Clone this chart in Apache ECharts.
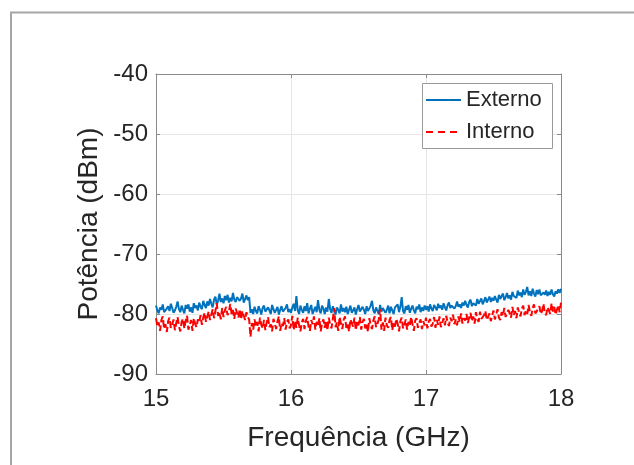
<!DOCTYPE html>
<html>
<head>
<meta charset="utf-8">
<script src="https://cdn.jsdelivr.net/npm/echarts@6/dist/echarts.min.js"></script>
<style>
  html, body { margin: 0; padding: 0; background: #fff; }
  #chart { width: 634px; height: 465px; }
</style>
</head>
<body>
<div id="chart"></div>
<script>
// Sweep: 15-18 GHz, 0.01 GHz step
const freqStart = 15;
const freqStep = 0.01;

const xTicks = [15, 16, 17, 18];
const yTicks = [-90, -80, -70, -60, -50, -40];
const seriesNames = ['Externo', 'Interno'];

// Measured power, external antenna (dBm)
const externo = [
  -78.6, -79.4, -79.9, -78.9, -79.3, -78.4, -79.7, -80.0, -79.1, -78.7,
  -79.5, -78.3, -79.0, -79.8, -79.4, -78.8, -77.9, -79.2, -79.7, -78.6,
  -79.3, -79.9, -78.5, -79.1, -78.4, -79.6, -78.9, -79.8, -78.2, -79.0,
  -78.6, -79.4, -78.1, -78.8, -79.2, -77.8, -78.5, -79.0, -77.9, -78.6,
  -77.5, -78.3, -78.9, -77.6, -77.1, -78.4, -77.8, -76.6, -78.0, -77.4,
  -78.2, -77.0, -77.7, -76.8, -78.1, -77.3, -77.9, -76.5, -77.6, -78.0,
  -77.2, -76.9, -77.8, -77.4, -76.6, -78.1, -77.5, -76.9, -77.7, -77.2,
  -79.8, -79.2, -80.0, -78.8, -79.5, -79.9, -78.7, -79.3, -80.1, -79.0,
  -78.6, -79.6, -79.9, -78.9, -79.4, -80.0, -78.5, -79.2, -79.8, -79.5,
  -78.8, -80.1, -79.3, -78.7, -79.6, -79.9, -79.0, -78.4, -79.7, -79.2,
  -79.8, -78.9, -78.3, -79.5, -77.0, -79.4, -80.0, -78.6, -79.3, -79.8,
  -78.7, -79.5, -78.2, -79.9, -79.1, -78.5, -80.0, -79.4, -78.8, -79.7,
  -77.7, -79.3, -79.9, -78.6, -79.1, -80.0, -78.9, -79.6, -77.5, -79.2,
  -79.8, -78.7, -79.4, -80.1, -78.9, -79.3, -79.9, -78.4, -79.6, -79.0,
  -79.7, -78.8, -80.0, -79.3, -78.6, -79.8, -79.4, -78.9, -80.1, -79.2,
  -78.5, -79.6, -79.9, -78.8, -79.3, -80.0, -78.7, -79.5, -79.1, -78.6,
  -77.8, -79.4, -79.9, -78.9, -79.2, -80.0, -78.5, -79.6, -79.0, -78.7,
  -79.8, -79.3, -78.6, -79.9, -78.8, -79.4, -80.0, -78.9, -79.2, -78.4,
  -79.7, -78.8, -77.2, -79.5, -79.9, -78.7, -79.3, -78.5, -79.8, -79.1,
  -78.6, -79.4, -79.9, -78.8, -79.2, -78.4, -79.7, -78.9, -79.5, -78.6,
  -79.3, -78.7, -79.6, -78.4, -79.1, -79.5, -78.5, -78.9, -79.4, -78.3,
  -79.0, -78.6, -79.3, -78.2, -78.9, -79.4, -78.5, -78.1, -79.0, -78.6,
  -78.3, -79.1, -78.7, -77.9, -78.8, -78.4, -79.0, -78.1, -78.6, -77.8,
  -78.5, -78.9, -78.0, -77.6, -78.7, -78.2, -77.9, -78.6, -77.5, -78.3,
  -78.0, -77.4, -78.4, -77.8, -77.2, -78.1, -77.6, -77.1, -78.0, -77.3,
  -77.8, -77.0, -77.6, -78.1, -76.8, -77.5, -77.0, -76.6, -77.7, -77.2,
  -76.5, -77.4, -76.9, -77.6, -76.3, -77.0, -76.7, -77.3, -76.1, -76.9,
  -76.4, -77.2, -75.9, -76.8, -76.3, -75.5, -76.9, -76.2, -77.0, -75.8,
  -76.6, -77.1, -76.0, -76.7, -75.9, -76.9, -77.2, -76.4, -76.8, -76.1,
  -77.0, -76.3, -76.8, -75.9, -76.7, -77.1, -76.2, -76.6, -75.9, -76.5,
  -75.8
];

// Measured power, internal antenna (dBm)
const interno = [
  -80.7, -82.1, -81.4, -82.8, -81.0, -80.4, -82.5, -81.7, -83.0, -81.2,
  -80.6, -82.3, -81.8, -80.9, -82.7, -81.5, -80.5, -82.0, -82.9, -81.3,
  -80.8, -82.4, -81.1, -80.3, -82.6, -81.9, -81.0, -82.8, -80.7, -81.6,
  -82.2, -80.9, -81.4, -80.2, -81.8, -80.6, -79.8, -81.3, -80.4, -79.6,
  -81.0, -80.1, -79.2, -80.7, -79.5, -78.2, -80.3, -79.7, -80.9, -79.0,
  -80.5, -79.4, -78.8, -80.2, -79.6, -78.3, -80.0, -79.3, -80.8, -79.1,
  -79.8, -80.6, -79.2, -80.9, -79.5, -80.3, -81.0, -79.7, -80.5, -80.9,
  -83.8, -81.5, -82.6, -80.9, -82.1, -81.3, -82.9, -80.6, -81.8, -82.4,
  -81.0, -82.7, -81.4, -80.5, -82.2, -81.7, -82.9, -80.8, -81.6, -82.5,
  -81.2, -80.4, -82.8, -81.5, -82.0, -80.7, -82.6, -81.3, -80.9, -82.4,
  -81.8, -80.3, -82.7, -81.1, -82.3, -80.6, -81.9, -82.9, -81.4, -80.8,
  -82.5, -81.2, -80.5, -82.1, -82.8, -81.0, -81.7, -80.4, -82.6, -81.3,
  -82.0, -80.7, -82.9, -81.5, -80.9, -82.3, -81.1, -82.7, -80.6, -81.8,
  -82.4, -80.8, -79.0, -82.2, -81.4, -82.8, -80.5, -81.6, -82.5, -81.0,
  -80.4, -82.3, -81.7, -82.9, -80.9, -81.5, -82.1, -80.6, -82.7, -81.2,
  -81.9, -80.5, -82.6, -81.3, -80.8, -82.4, -81.6, -83.0, -80.7, -81.8,
  -82.5, -81.1, -80.4, -82.2, -81.7, -80.9, -79.2, -82.6, -81.4, -82.8,
  -80.6, -81.9, -82.3, -81.0, -80.5, -82.7, -81.5, -82.1, -80.8, -81.6,
  -82.9, -81.2, -80.6, -82.4, -81.8, -80.9, -82.6, -81.3, -82.0, -80.5,
  -81.7, -82.8, -81.1, -80.7, -82.3, -81.5, -80.9, -82.5, -81.2, -81.9,
  -80.6, -82.4, -81.3, -80.8, -82.1, -81.6, -80.5, -82.3, -81.0, -81.8,
  -80.4, -82.2, -81.5, -80.7, -81.9, -80.3, -81.4, -82.0, -80.6, -81.2,
  -80.1, -81.7, -80.9, -81.9, -80.4, -81.3, -79.9, -81.6, -80.7, -81.1,
  -80.0, -81.5, -80.6, -79.8, -81.2, -80.4, -81.6, -79.7, -80.9, -81.3,
  -79.6, -80.8, -81.1, -80.2, -79.5, -81.0, -80.5, -79.9, -81.2, -80.3,
  -79.4, -80.9, -80.1, -79.2, -80.6, -81.0, -79.7, -80.3, -79.0, -80.5,
  -80.8, -79.3, -79.9, -80.6, -78.8, -80.2, -79.5, -80.7, -78.9, -79.8,
  -80.4, -79.1, -78.6, -80.2, -79.4, -80.0, -78.5, -79.7, -80.3, -79.0,
  -78.4, -79.9, -80.1, -79.2, -78.7, -80.0, -79.5, -78.3, -79.8, -80.2,
  -78.9, -79.4, -80.0, -78.2, -79.6, -78.8, -80.1, -79.3, -78.5, -79.7,
  -78.1
];

const toPairs = arr => arr.map((v, i) => [+(freqStart + i * freqStep).toFixed(2), v]);

const FONT = 'Liberation Sans, Arial, Helvetica, sans-serif';
const TEXT = '#262626';
const AXIS = '#8a8a8a';
const GRID = '#e6e6e6';
const BLUE = '#0072BD';
const RED = '#FF0000';

const chart = echarts.init(document.getElementById('chart'), null, { renderer: 'canvas' });

const boxAxis = {
  axisLine: { show: true, onZero: false, lineStyle: { color: AXIS, width: 1 } },
  axisTick: { show: true, inside: true, length: 4, lineStyle: { color: AXIS } }
};

chart.setOption({
  backgroundColor: '#ffffff',
  animation: false,
  textStyle: { fontFamily: FONT },
  grid: { left: 156, top: 74, width: 405, height: 300, show: false },
  xAxis: [Object.assign({
    type: 'value',
    min: xTicks[0], max: xTicks[xTicks.length - 1], interval: 1,
    name: 'Frequência (GHz)',
    nameLocation: 'middle', nameGap: 50,
    nameTextStyle: { fontSize: 28, color: TEXT, fontFamily: FONT },
    axisLabel: { fontSize: 24, color: TEXT, margin: 13, fontFamily: FONT },
    splitLine: { show: true, lineStyle: { color: GRID, width: 1 } }
  }, boxAxis), Object.assign({
    type: 'value', position: 'top',
    min: xTicks[0], max: xTicks[xTicks.length - 1], interval: 1,
    axisLabel: { show: false }, splitLine: { show: false }
  }, boxAxis)],
  yAxis: [Object.assign({
    type: 'value',
    min: yTicks[0], max: yTicks[yTicks.length - 1], interval: 10,
    name: 'Potência (dBm)',
    nameLocation: 'middle', nameGap: 53, nameMoveOverlap: false,
    nameTextStyle: { fontSize: 28, color: TEXT, fontFamily: FONT },
    axisLabel: { fontSize: 24, color: TEXT, margin: 8, fontFamily: FONT },
    splitLine: { show: true, lineStyle: { color: GRID, width: 1 } }
  }, boxAxis), Object.assign({
    type: 'value', position: 'right',
    min: yTicks[0], max: yTicks[yTicks.length - 1], interval: 10,
    axisLabel: { show: false }, splitLine: { show: false }
  }, boxAxis)],
  legend: { show: false },
  series: [{
    name: seriesNames[0],
    type: 'line',
    data: toPairs(externo),
    symbol: 'none',
    lineStyle: { color: BLUE, width: 2 },
    itemStyle: { color: BLUE },
    z: 2
  }, {
    name: seriesNames[1],
    type: 'line',
    data: toPairs(interno),
    symbol: 'none',
    lineStyle: { color: RED, width: 2, type: [7, 3] },
    itemStyle: { color: RED },
    z: 3
  }],
  graphic: [
    // figure frame
    {
      type: 'polyline', silent: true, z: 100,
      shape: { points: [[11, 465], [11, 12.5], [634, 12.5]] },
      style: { stroke: '#a6a6a6', lineWidth: 2, fill: null }
    },
    // legend box
    {
      type: 'rect', silent: true, z: 100,
      shape: { x: 422.5, y: 83.5, width: 130, height: 65 },
      style: { fill: '#ffffff', stroke: '#9a9a9a', lineWidth: 1 }
    },
    {
      type: 'line', silent: true, z: 101,
      shape: { x1: 426, y1: 100, x2: 461, y2: 100 },
      style: { stroke: BLUE, lineWidth: 2 }
    },
    {
      type: 'line', silent: true, z: 101,
      shape: { x1: 426, y1: 132, x2: 462, y2: 132 },
      style: { stroke: RED, lineWidth: 2, lineDash: [7, 5] }
    },
    {
      type: 'text', silent: true, z: 101, x: 466, y: 100,
      style: { text: seriesNames[0], fill: TEXT, font: '22px ' + FONT, verticalAlign: 'middle' }
    },
    {
      type: 'text', silent: true, z: 101, x: 466, y: 132,
      style: { text: seriesNames[1], fill: TEXT, font: '22px ' + FONT, verticalAlign: 'middle' }
    }
  ]
});
</script>
</body>
</html>
